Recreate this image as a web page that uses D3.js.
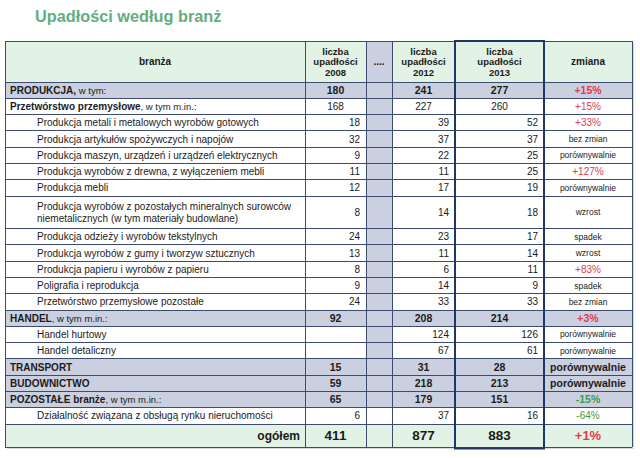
<!DOCTYPE html>
<html><head><meta charset="utf-8">
<script src="https://cdn.jsdelivr.net/npm/d3@7"></script>
<style>body{margin:0;background:#fff}svg{display:block;font-family:"Liberation Sans",Arial,sans-serif}</style>
</head><body><svg id="c" width="640" height="458"></svg>
<script>
const title = "Upadłości według branż";
const headerLabels = ["branża", "liczba\nupadłości\n2008", "....", "liczba\nupadłości\n2012", "liczba\nupadłości\n2013", "zmiana"];
const rowLabels = [
  "PRODUKCJA,", "Przetwórstwo przemysłowe", "Produkcja metali i metalowych wyrobów gotowych",
  "Produkcja artykułów spożywczych i napojów", "Produkcja maszyn, urządzeń i urządzeń elektrycznych",
  "Produkcja wyrobów z drewna, z wyłączeniem mebli", "Produkcja mebli",
  "Produkcja wyrobów z pozostałych mineralnych surowców\nniemetalicznych (w tym materiały budowlane)",
  "Produkcja odzieży i wyrobów tekstylnych", "Produkcja wyrobów z gumy i tworzyw sztucznych",
  "Produkcja papieru i wyrobów z papieru", "Poligrafia i reprodukcja", "Przetwórstwo przemysłowe pozostałe",
  "HANDEL", "Handel hurtowy", "Handel detaliczny", "TRANSPORT", "BUDOWNICTWO", "POZOSTAŁE branże",
  "Działalność związana z obsługą rynku nieruchomości"
];
const labelSuffix = [" w tym:", ", w tym m.in.:", "", "", "", "", "", "", "", "", "", "", "",
  ", w tym m.in.:", "", "", "", "", ", w tym m.in.:", ""];
const levels = [0, 1, 2, 2, 2, 2, 2, 2, 2, 2, 2, 2, 2, 0, 2, 2, 0, 0, 0, 2];
const v2008 = [180, 168, 18, 32, 9, 11, 12, 8, 24, 13, 8, 9, 24, 92, null, null, 15, 59, 65, 6];
const v2012 = [241, 227, 39, 37, 22, 11, 17, 14, 23, 11, 6, 14, 33, 208, 124, 67, 31, 218, 179, 37];
const v2013 = [277, 260, 52, 37, 25, 25, 19, 18, 17, 14, 11, 9, 33, 214, 126, 61, 28, 213, 151, 16];
const changes = ["+15%", "+15%", "+33%", "bez zmian", "porównywalnie", "+127%", "porównywalnie", "wzrost",
  "spadek", "wzrost", "+83%", "spadek", "bez zmian", "+3%", "porównywalnie", "porównywalnie",
  "porównywalnie", "porównywalnie", "-15%", "-64%"];
const totalLabel = "ogółem";
const totalValues = [411, 877, 883];
const totalChange = "+1%";

const svg = d3.select("#c");
const GRID = "#3d4b6e", GRAY = "#cbd0e0", GREEN = "#e2f2e5", RED = "#e23a4e", GRN = "#3f9a45", TXT = "#1b1b1b";
svg.append("rect").attr("width", 640).attr("height", 458).attr("fill", "#fff");

svg.append("text").attr("x", 35).attr("y", 22).attr("font-size", 16.3).attr("font-weight", "bold")
  .attr("fill", "#63ae7f").text(title);

const colKeys = ["label", "y2008", "gap", "y2012", "y2013", "zmiana"];
const colEdges = [5, 305, 366, 392, 455, 544, 632];
const x = d3.scaleOrdinal().domain(colKeys).range(colEdges.slice(0, 6));
const colW = k => colEdges[colKeys.indexOf(k) + 1] - colEdges[colKeys.indexOf(k)];

const tTop = 41, headBot = 82, bodyBot = 424, tableBot = 447;
const units = rowLabels.map(l => l.split("\n").length);
const cum = [0]; units.forEach(u => cum.push(cum[cum.length - 1] + u));
const y = d3.scaleLinear().domain([0, cum[cum.length - 1]]).range([headBot, bodyBot]);

// shadow
svg.append("rect").attr("x", colEdges[0] + 2).attr("y", tTop + 2).attr("width", colEdges[6] - colEdges[0])
  .attr("height", tableBot - tTop).attr("fill", "#d8d8d8");
svg.append("rect").attr("x", colEdges[0]).attr("y", tTop).attr("width", colEdges[6] - colEdges[0])
  .attr("height", tableBot - tTop).attr("fill", "#fff");

// header backgrounds
colKeys.forEach(k => {
  svg.append("rect").attr("x", x(k)).attr("y", tTop).attr("width", colW(k)).attr("height", headBot - tTop)
    .attr("fill", k === "gap" ? GRAY : GREEN);
});
// body rows backgrounds
rowLabels.forEach((l, i) => {
  const y0 = y(cum[i]), y1 = y(cum[i + 1]);
  colKeys.forEach(k => {
    let fill = levels[i] === 0 ? GRAY : "#fff";
    if (k === "gap" && i !== rowLabels.length - 1) fill = GRAY;
    svg.append("rect").attr("x", x(k)).attr("y", y0).attr("width", colW(k)).attr("height", y1 - y0).attr("fill", fill);
  });
});
// total row
svg.append("rect").attr("x", colEdges[0]).attr("y", bodyBot).attr("width", colEdges[6] - colEdges[0])
  .attr("height", tableBot - bodyBot).attr("fill", GREEN);

// grid lines
const hLines = [tTop, headBot, ...cum.slice(1).map(c => y(c)), tableBot];
svg.selectAll(".hl").data(hLines).enter().append("line")
  .attr("x1", colEdges[0]).attr("x2", colEdges[6]).attr("y1", d => d).attr("y2", d => d)
  .attr("stroke", GRID).attr("stroke-width", 1).attr("shape-rendering", "crispEdges");
svg.selectAll(".vl").data(colEdges).enter().append("line")
  .attr("x1", d => d).attr("x2", d => d).attr("y1", tTop).attr("y2", tableBot)
  .attr("stroke", GRID).attr("stroke-width", 1).attr("shape-rendering", "crispEdges");
// highlighted 2013 column
svg.append("rect").attr("x", x("y2013")).attr("y", tTop).attr("width", colW("y2013")).attr("height", tableBot - tTop + 1.5)
  .attr("fill", "none").attr("stroke", "#1f3766").attr("stroke-width", 2);

// header text
headerLabels.forEach((h, j) => {
  const k = colKeys[j], lines = h.split("\n");
  const cx = x(k) + colW(k) / 2, cy = (tTop + headBot) / 2;
  const lh = 10.5, fs = lines.length > 1 ? 9.5 : 10;
  lines.forEach((ln, li) => {
    svg.append("text").attr("x", cx).attr("y", cy + 3.5 + (li - (lines.length - 1) / 2) * lh)
      .attr("text-anchor", "middle").attr("font-size", fs).attr("font-weight", "bold").attr("fill", TXT).text(ln);
  });
});

function changeColor(c) { return c[0] === "+" ? RED : c[0] === "-" ? GRN : TXT; }

// body text
rowLabels.forEach((l, i) => {
  const y0 = y(cum[i]), y1 = y(cum[i + 1]), cy = (y0 + y1) / 2;
  const lv = levels[i];
  const lines = l.split("\n");
  lines.forEach((ln, li) => {
    const t = svg.append("text").attr("x", lv === 2 ? 37 : 10)
      .attr("y", cy + 3.5 + (li - (lines.length - 1) / 2) * 12).attr("fill", TXT);
    t.append("tspan").attr("font-size", 10).attr("font-weight", lv < 2 ? "bold" : "normal").text(ln);
    if (li === lines.length - 1 && labelSuffix[i]) t.append("tspan").attr("font-size", 9.5).text(labelSuffix[i]);
  });
  const vals = { y2008: v2008[i], y2012: v2012[i], y2013: v2013[i] };
  Object.keys(vals).forEach(k => {
    if (vals[k] == null) return;
    const centered = lv < 2;
    svg.append("text").attr("x", centered ? x(k) + colW(k) / 2 : x(k) + colW(k) - 6).attr("y", cy + 3.6)
      .attr("text-anchor", centered ? "middle" : "end").attr("font-size", lv === 0 ? 10.5 : 10)
      .attr("font-weight", lv === 0 ? "bold" : "normal").attr("fill", TXT).text(vals[k]);
  });
  const c = changes[i], isPct = /%$/.test(c);
  svg.append("text").attr("x", x("zmiana") + colW("zmiana") / 2).attr("y", cy + (isPct || lv === 0 ? 3.6 : 3))
    .attr("text-anchor", "middle").attr("font-size", lv === 0 ? 10.5 : (isPct ? 10 : 8.5))
    .attr("font-weight", lv === 0 ? "bold" : "normal").attr("fill", changeColor(c)).text(c);
});

// total row text
const tcy = (bodyBot + tableBot) / 2 + 4.5;
svg.append("text").attr("x", 300).attr("y", tcy - 0.5).attr("text-anchor", "end").attr("font-size", 12)
  .attr("font-weight", "bold").attr("fill", TXT).text(totalLabel);
["y2008", "y2012", "y2013"].forEach((k, j) => {
  svg.append("text").attr("x", x(k) + colW(k) / 2).attr("y", tcy).attr("text-anchor", "middle")
    .attr("font-size", 13.5).attr("font-weight", "bold").attr("fill", TXT).text(totalValues[j]);
});
svg.append("text").attr("x", x("zmiana") + colW("zmiana") / 2).attr("y", tcy).attr("text-anchor", "middle")
  .attr("font-size", 13).attr("font-weight", "bold").attr("fill", changeColor(totalChange)).text(totalChange);
</script></body></html>
